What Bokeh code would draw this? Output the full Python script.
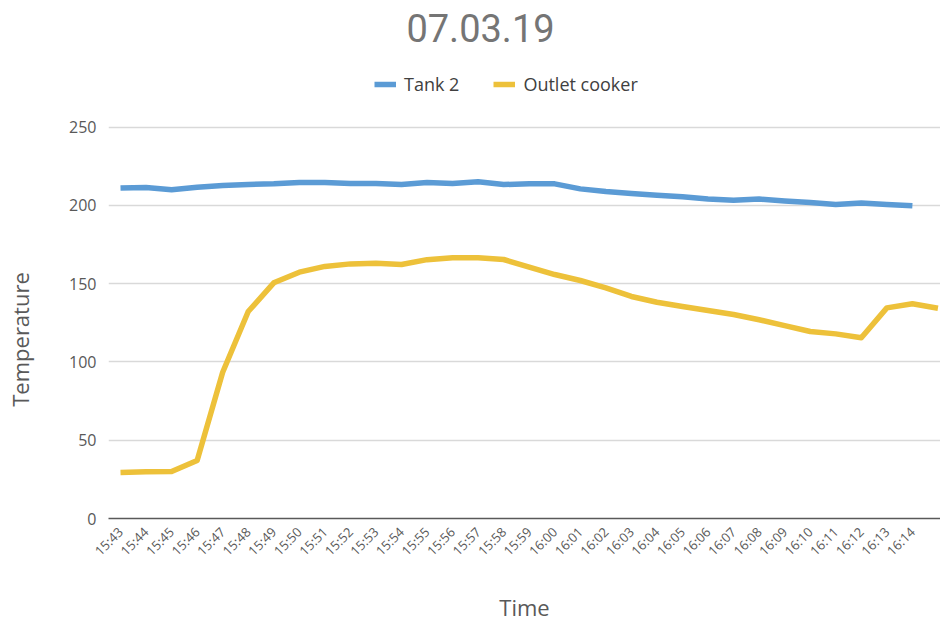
from bokeh.plotting import figure
from bokeh.models import Range1d, FixedTicker, Legend, LegendItem, Label
from bokeh.embed import file_html
from bokeh.resources import INLINE
import math

# ---- data ----
title_text = "07.03.19"
times = ["15:43", "15:44", "15:45", "15:46", "15:47", "15:48", "15:49", "15:50",
         "15:51", "15:52", "15:53", "15:54", "15:55", "15:56", "15:57", "15:58",
         "15:59", "16:00", "16:01", "16:02", "16:03", "16:04", "16:05", "16:06",
         "16:07", "16:08", "16:09", "16:10", "16:11", "16:12", "16:13", "16:14"]
tank2 = [211, 211.4, 210, 211.5, 212.6, 213.3, 213.7, 214.5, 214.5, 214, 214,
         213.3, 214.5, 214, 215, 213.3, 213.7, 213.7, 210.5, 208.8, 207.5, 206.5,
         205.4, 204.1, 203.3, 204, 202.8, 201.8, 200.5, 201.5, 200.6, 199.7]
outlet = [29.3, 29.8, 30, 37, 93.4, 132.2, 150.5, 157.3, 161, 162.6, 163,
          162.2, 165.3, 166.5, 166.5, 165.4, 160.5, 155.8, 152, 147.3, 141.8, 138.1,
          135.4, 132.8, 130.3, 126.9, 123.2, 119.4, 117.9, 115.4, 134.5, 137.1, 134.3]
y_ticks = [0, 50, 100, 150, 200, 250]

x_tank = list(range(len(tank2)))
x_out = list(range(len(outlet)))

p = figure(width=940, height=624, output_backend="svg", toolbar_location=None,
           x_range=Range1d(-0.47, 32.1), y_range=Range1d(0, 330.8),
           min_border_left=108, min_border_right=0, min_border_top=0,
           min_border_bottom=106)

p.outline_line_color = None
p.background_fill_color = "white"
p.border_fill_color = "white"

r1 = p.line(x_tank, tank2, line_color="#5b9bd5", line_width=5.5, line_join="round")
r2 = p.line(x_out, outlet, line_color="#edc13a", line_width=5.5, line_join="round")

# chart title, drawn at the top of the chart area
title_label = Label(x=372, y=491, x_units="screen", y_units="screen",
                    text=title_text, text_font="Roboto", text_font_size="38px",
                    text_color="#757575", text_align="center", text_baseline="middle")
p.add_layout(title_label)

legend = Legend(items=[LegendItem(label="Tank 2", renderers=[r1]),
                       LegendItem(label="Outlet cooker", renderers=[r2])],
                location=(266, 422), orientation="horizontal")
legend.label_text_font = "Open Sans"
legend.label_text_font_size = "18px"
legend.label_text_color = "#404040"
legend.glyph_width = 22
legend.glyph_height = 20
legend.label_height = 20
legend.spacing = 34
legend.label_standoff = 8
legend.padding = 4
legend.margin = 0
legend.border_line_color = None
legend.background_fill_alpha = 0
p.add_layout(legend)

# y axis (non-breaking spaces shift the centred label down, as in the original)
p.yaxis.ticker = FixedTicker(ticks=y_ticks)
p.yaxis.axis_line_color = None
p.yaxis.major_tick_line_color = None
p.yaxis.minor_tick_line_color = None
p.yaxis.major_label_text_font = "Open Sans"
p.yaxis.major_label_text_font_size = "16px"
p.yaxis.major_label_text_color = "#595959"
p.yaxis.major_label_standoff = 6
p.yaxis.axis_label = "Temperature" + "\u00a0" * 28
p.yaxis.axis_label_text_font = "Open Sans"
p.yaxis.axis_label_text_font_size = "22px"
p.yaxis.axis_label_text_font_style = "normal"
p.yaxis.axis_label_text_color = "#595959"
p.yaxis.axis_label_standoff = 31

# x axis
p.xaxis.ticker = FixedTicker(ticks=list(range(len(times))))
p.xaxis.major_label_overrides = {i: t for i, t in enumerate(times)}
p.xaxis.major_label_orientation = math.pi / 4
p.xaxis.major_label_text_font = "Open Sans"
p.xaxis.major_label_text_font_size = "13px"
p.xaxis.major_label_text_color = "#595959"
p.xaxis.major_label_standoff = 5
p.xaxis.axis_line_color = "#595959"
p.xaxis.axis_line_width = 1.5
p.xaxis.major_tick_line_color = None
p.xaxis.minor_tick_line_color = None
p.xaxis.axis_label = "Time"
p.xaxis.axis_label_text_font = "Open Sans"
p.xaxis.axis_label_text_font_size = "22px"
p.xaxis.axis_label_text_font_style = "normal"
p.xaxis.axis_label_text_color = "#595959"
p.xaxis.axis_label_standoff = 23

p.xgrid.grid_line_color = None
p.ygrid.ticker = FixedTicker(ticks=y_ticks[1:])
p.ygrid.grid_line_color = "#d9d9d9"
p.ygrid.grid_line_width = 1.5

open("out.html", "w").write(file_html(p, INLINE))
